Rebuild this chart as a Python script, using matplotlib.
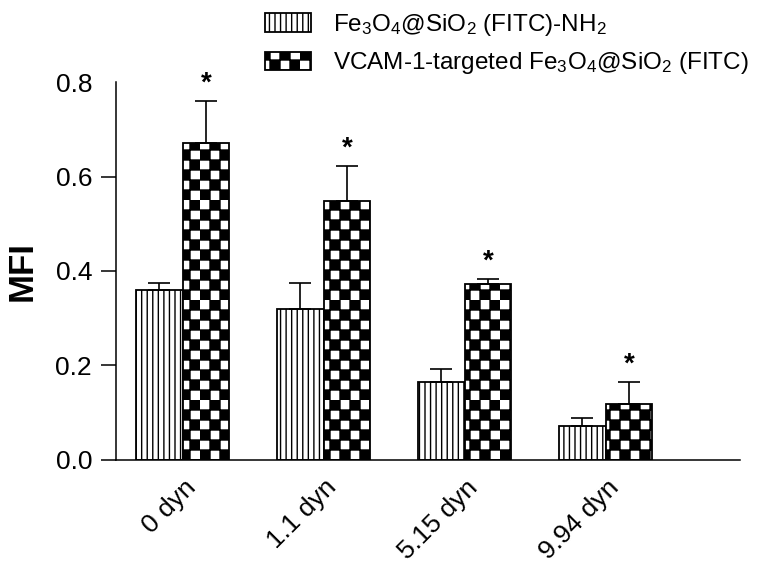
import numpy as np
import matplotlib
matplotlib.use('Agg')
import matplotlib.pyplot as plt
import matplotlib.hatch as mhatch
import matplotlib.transforms as mtransforms
from matplotlib.path import Path


# checkerboard hatch, mapped to '*'
class CheckerHatch(mhatch.HatchPatternBase):
    def __init__(self, hatch, density):
        self.cells = 10 if '*' in hatch else 0
        self.num_vertices = (self.cells * self.cells // 2) * 5

    def set_vertices_and_codes(self, vertices, codes):
        n = self.cells
        k = 0
        for i in range(n):
            for j in range(n):
                if (i + j) % 2 == 0:
                    x0, y0 = i / n, j / n
                    x1, y1 = (i + 1) / n, (j + 1) / n
                    vertices[k:k + 5] = [(x0, y0), (x1, y0), (x1, y1), (x0, y1), (x0, y0)]
                    codes[k:k + 5] = [Path.MOVETO, Path.LINETO, Path.LINETO,
                                      Path.LINETO, Path.CLOSEPOLY]
                    k += 5


mhatch._hatch_types = [mhatch.VerticalHatch, CheckerHatch]

plt.rcParams['font.family'] = ['Liberation Sans', 'DejaVu Sans']
plt.rcParams['mathtext.fontset'] = 'custom'
plt.rcParams['mathtext.rm'] = 'Liberation Sans'
plt.rcParams['mathtext.it'] = 'Liberation Sans'
plt.rcParams['hatch.linewidth'] = 1.0

categories = ['0 dyn', '1.1 dyn', '5.15 dyn', '9.94 dyn']
nh2_mean = [0.36, 0.32, 0.165, 0.072]
nh2_err = [0.015, 0.055, 0.028, 0.017]
vcam_mean = [0.67, 0.548, 0.372, 0.118]
vcam_err = [0.09, 0.075, 0.011, 0.047]
labels = [r'Fe$_3$O$_4$@SiO$_2$ (FITC)-NH$_2$',
          r'VCAM-1-targeted Fe$_3$O$_4$@SiO$_2$ (FITC)']

x = np.arange(len(categories))
w = 0.33

fig = plt.figure(figsize=(7.61, 5.74), dpi=100)
ax = fig.add_axes([0.152, 0.199, 0.820, 0.658])

err_kw = dict(elinewidth=1.2, capthick=1.2, ecolor='black')
b1 = ax.bar(x - w / 2, nh2_mean, w, color='white', edgecolor='black', linewidth=1.3,
            hatch='|||', label=labels[0],
            yerr=[np.zeros(len(x)), nh2_err], capsize=8, error_kw=err_kw)
b2 = ax.bar(x + w / 2, vcam_mean, w, color='white', edgecolor='black', linewidth=1.3,
            hatch='*', label=labels[1],
            yerr=[np.zeros(len(x)), vcam_err], capsize=8, error_kw=err_kw)

for xi, m, e in zip(x, vcam_mean, vcam_err):
    ax.annotate('*', (xi + w / 2, m + e), xytext=(0, 3), textcoords='offset points',
                ha='center', va='bottom', fontsize=20, fontweight='bold')

ax.set_xlim(-0.475, 3.95)
ax.set_ylim(0, 0.8)
ax.set_yticks([0.0, 0.2, 0.4, 0.6, 0.8])
ax.set_yticklabels(['0.0', '0.2', '0.4', '0.6', '0.8'])
ax.set_xticks(x)
ax.set_xticklabels(categories, rotation=45, ha='right', rotation_mode='anchor')
ax.tick_params(axis='y', length=11, width=1.1, labelsize=19, pad=6)
ax.tick_params(axis='x', length=0, labelsize=19, pad=14)
offset = mtransforms.ScaledTranslation(0.01, 0.04, fig.dpi_scale_trans)
for lab in ax.get_xticklabels():
    lab.set_transform(lab.get_transform() + offset)
# no tick mark at the top value, only its label
ax.yaxis.get_major_ticks()[-1].tick1line.set_visible(False)
ax.set_ylabel('MFI', fontsize=25, fontweight='bold', labelpad=12)

for s in ['top', 'right']:
    ax.spines[s].set_visible(False)
for s in ['left', 'bottom']:
    ax.spines[s].set_linewidth(1.1)

fig.legend(handles=[b1, b2], loc='upper left', bbox_to_anchor=(250 / 761, 1.004),
           frameon=False, fontsize=17.5, handlelength=1.9, handleheight=0.82,
           handletextpad=0.9, labelspacing=0.5, borderpad=0.1)

fig.savefig('out.png', dpi=100)
